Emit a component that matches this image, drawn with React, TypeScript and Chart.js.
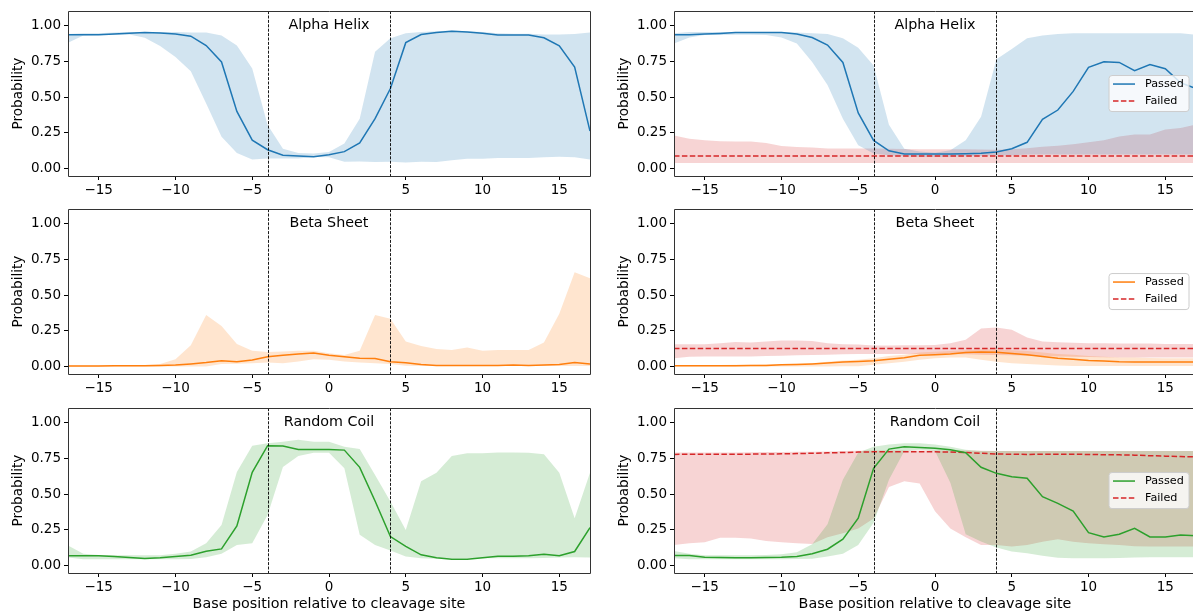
import React, { useEffect, useRef } from 'react';
import { Chart, registerables } from 'chart.js';

Chart.register(...registerables);

const positions = [-17, -16, -15, -14, -13, -12, -11, -10, -9, -8, -7, -6, -5, -4, -3, -2, -1, 0, 1, 2, 3, 4, 5, 6, 7, 8, 9, 10, 11, 12, 13, 14, 15, 16, 17];
const xTickValues = [-15, -10, -5, 0, 5, 10, 15];
const xTickLabels = ['\u221215', '\u221210', '\u22125', '0', '5', '10', '15'];
const yTickValues = [0, 0.25, 0.5, 0.75, 1.0];
const yTickLabels = ['0.00', '0.25', '0.50', '0.75', '1.00'];
const cleavageWindow = [-4, 4];
const titles = ['Alpha Helix', 'Beta Sheet', 'Random Coil'];
const legendLabels = ['Passed', 'Failed'];
const yLabel = 'Probability';
const xLabel = 'Base position relative to cleavage site';

// Alpha helix, all sequences (left)
const ahLeftMean = [0.935, 0.935, 0.935, 0.94, 0.945, 0.95, 0.948, 0.94, 0.925, 0.86, 0.745, 0.4, 0.2, 0.133, 0.095, 0.09, 0.085, 0.098, 0.12, 0.18, 0.35, 0.56, 0.88, 0.937, 0.95, 0.96, 0.955, 0.946, 0.933, 0.933, 0.933, 0.914, 0.858, 0.71, 0.263];
const ahLeftHigh = [0.94, 0.945, 0.945, 0.95, 0.955, 0.955, 0.955, 0.955, 0.95, 0.95, 0.93, 0.86, 0.7, 0.305, 0.14, 0.11, 0.107, 0.118, 0.177, 0.35, 0.816, 0.91, 0.945, 0.955, 0.96, 0.965, 0.96, 0.955, 0.945, 0.942, 0.942, 0.937, 0.937, 0.94, 0.95];
const ahLeftLow = [0.88, 0.93, 0.933, 0.935, 0.937, 0.914, 0.856, 0.78, 0.68, 0.455, 0.223, 0.11, 0.065, 0.072, 0.072, 0.072, 0.083, 0.08, 0.05, 0.051, 0.047, 0.05, 0.045, 0.05, 0.047, 0.06, 0.07, 0.07, 0.075, 0.075, 0.075, 0.08, 0.085, 0.08, 0.065];
// Alpha helix, passed vs failed (right)
const ahRightMean = [0.935, 0.935, 0.94, 0.944, 0.95, 0.95, 0.95, 0.95, 0.94, 0.916, 0.863, 0.742, 0.39, 0.198, 0.126, 0.104, 0.103, 0.104, 0.104, 0.105, 0.108, 0.118, 0.14, 0.185, 0.345, 0.41, 0.54, 0.708, 0.747, 0.742, 0.684, 0.728, 0.698, 0.6, 0.56];
const ahRightHigh = [0.945, 0.955, 0.955, 0.955, 0.955, 0.955, 0.955, 0.955, 0.95, 0.945, 0.94, 0.91, 0.845, 0.72, 0.307, 0.14, 0.12, 0.112, 0.13, 0.2, 0.363, 0.765, 0.835, 0.91, 0.93, 0.94, 0.945, 0.945, 0.945, 0.945, 0.945, 0.945, 0.945, 0.945, 0.935];
const ahRightLow = [0.874, 0.916, 0.933, 0.933, 0.935, 0.935, 0.933, 0.916, 0.874, 0.745, 0.584, 0.35, 0.165, 0.107, 0.095, 0.088, 0.085, 0.085, 0.085, 0.088, 0.09, 0.095, 0.095, 0.1, 0.1, 0.1, 0.1, 0.1, 0.1, 0.1, 0.1, 0.1, 0.1, 0.1, 0.1];
const ahFailMean = [0.09, 0.09, 0.09, 0.09, 0.09, 0.09, 0.09, 0.09, 0.09, 0.09, 0.09, 0.09, 0.09, 0.09, 0.09, 0.09, 0.09, 0.09, 0.09, 0.09, 0.09, 0.09, 0.09, 0.09, 0.09, 0.09, 0.09, 0.09, 0.09, 0.09, 0.09, 0.09, 0.09, 0.09, 0.09];
const ahFailHigh = [0.232, 0.21, 0.2, 0.193, 0.19, 0.19, 0.18, 0.16, 0.153, 0.149, 0.142, 0.142, 0.142, 0.142, 0.14, 0.138, 0.137, 0.137, 0.137, 0.137, 0.135, 0.133, 0.136, 0.143, 0.154, 0.161, 0.171, 0.185, 0.2, 0.225, 0.24, 0.24, 0.275, 0.285, 0.31];
const ahFailLow = [0.04, 0.04, 0.04, 0.04, 0.04, 0.04, 0.04, 0.04, 0.04, 0.04, 0.04, 0.04, 0.04, 0.04, 0.04, 0.04, 0.04, 0.04, 0.04, 0.04, 0.04, 0.04, 0.04, 0.04, 0.04, 0.04, 0.04, 0.04, 0.04, 0.04, 0.04, 0.04, 0.04, 0.04, 0.04];

// Beta sheet, all sequences (left)
const bsLeftMean = [0.005, 0.005, 0.006, 0.007, 0.008, 0.008, 0.01, 0.012, 0.02, 0.03, 0.043, 0.035, 0.047, 0.07, 0.08, 0.09, 0.097, 0.08, 0.07, 0.06, 0.058, 0.035, 0.028, 0.016, 0.01, 0.01, 0.01, 0.01, 0.01, 0.012, 0.01, 0.012, 0.016, 0.03, 0.02];
const bsLeftHigh = [0.01, 0.01, 0.01, 0.01, 0.01, 0.012, 0.02, 0.053, 0.15, 0.362, 0.285, 0.16, 0.113, 0.103, 0.107, 0.113, 0.113, 0.095, 0.083, 0.113, 0.362, 0.335, 0.176, 0.146, 0.125, 0.118, 0.135, 0.113, 0.118, 0.118, 0.118, 0.17, 0.37, 0.66, 0.617];
const bsLeftLow = [0.003, 0.003, 0.003, 0.003, 0.003, 0.003, 0.003, 0.003, 0.003, 0.003, 0.02, 0.022, 0.025, 0.03, 0.025, 0.037, 0.053, 0.05, 0.037, 0.03, 0.025, 0.02, 0.008, 0.005, 0.005, 0.005, 0.005, 0.005, 0.005, 0.005, 0.005, 0.005, 0.005, 0.005, 0.005];
// Beta sheet, passed vs failed (right)
const bsRightMean = [0.007, 0.008, 0.008, 0.008, 0.008, 0.009, 0.01, 0.014, 0.016, 0.02, 0.026, 0.033, 0.037, 0.042, 0.053, 0.063, 0.08, 0.084, 0.09, 0.1, 0.104, 0.102, 0.093, 0.084, 0.072, 0.06, 0.053, 0.044, 0.04, 0.035, 0.033, 0.033, 0.033, 0.033, 0.033];
const bsRightHigh = [0.01, 0.012, 0.012, 0.013, 0.014, 0.015, 0.017, 0.02, 0.022, 0.025, 0.035, 0.045, 0.05, 0.06, 0.075, 0.085, 0.1, 0.105, 0.11, 0.115, 0.12, 0.12, 0.115, 0.11, 0.1, 0.09, 0.085, 0.075, 0.07, 0.065, 0.065, 0.062, 0.06, 0.06, 0.06];
const bsRightLow = [0.003, 0.003, 0.003, 0.003, 0.003, 0.003, 0.003, 0.003, 0.003, 0.003, 0.003, 0.004, 0.004, 0.015, 0.025, 0.035, 0.05, 0.06, 0.065, 0.065, 0.05, 0.035, 0.025, 0.02, 0.015, 0.01, 0.006, 0.005, 0.005, 0.005, 0.005, 0.005, 0.005, 0.005, 0.005];
const bsFailMean = [0.128, 0.128, 0.128, 0.128, 0.128, 0.128, 0.128, 0.128, 0.128, 0.128, 0.128, 0.128, 0.128, 0.128, 0.128, 0.128, 0.128, 0.128, 0.128, 0.128, 0.128, 0.128, 0.128, 0.128, 0.128, 0.128, 0.128, 0.128, 0.128, 0.128, 0.128, 0.128, 0.128, 0.128, 0.128];
const bsFailHigh = [0.158, 0.158, 0.158, 0.165, 0.174, 0.17, 0.176, 0.183, 0.183, 0.18, 0.165, 0.158, 0.155, 0.148, 0.148, 0.15, 0.15, 0.153, 0.165, 0.188, 0.267, 0.274, 0.258, 0.204, 0.176, 0.172, 0.168, 0.165, 0.165, 0.163, 0.162, 0.162, 0.16, 0.16, 0.16];
const bsFailLow = [0.06, 0.07, 0.072, 0.072, 0.072, 0.072, 0.075, 0.078, 0.08, 0.082, 0.085, 0.088, 0.09, 0.09, 0.09, 0.09, 0.09, 0.09, 0.09, 0.088, 0.085, 0.082, 0.08, 0.078, 0.075, 0.072, 0.07, 0.068, 0.066, 0.065, 0.065, 0.065, 0.065, 0.065, 0.065];

// Random coil, all sequences (left)
const rcLeftMean = [0.07, 0.07, 0.07, 0.065, 0.058, 0.051, 0.056, 0.065, 0.074, 0.102, 0.118, 0.278, 0.652, 0.838, 0.835, 0.812, 0.812, 0.812, 0.807, 0.687, 0.452, 0.204, 0.135, 0.077, 0.056, 0.046, 0.046, 0.056, 0.067, 0.067, 0.07, 0.081, 0.07, 0.1, 0.267];
const rcLeftHigh = [0.142, 0.084, 0.075, 0.074, 0.074, 0.074, 0.074, 0.084, 0.1, 0.158, 0.285, 0.655, 0.838, 0.855, 0.865, 0.88, 0.865, 0.865, 0.83, 0.815, 0.633, 0.448, 0.25, 0.59, 0.65, 0.766, 0.785, 0.785, 0.79, 0.79, 0.788, 0.778, 0.65, 0.332, 0.65];
const rcLeftLow = [0.058, 0.046, 0.046, 0.046, 0.046, 0.046, 0.046, 0.046, 0.048, 0.06, 0.084, 0.146, 0.158, 0.355, 0.69, 0.766, 0.788, 0.788, 0.68, 0.216, 0.146, 0.107, 0.065, 0.053, 0.049, 0.053, 0.053, 0.053, 0.053, 0.053, 0.053, 0.055, 0.058, 0.06, 0.058];
// Random coil, passed vs failed (right)
const rcRightMean = [0.072, 0.072, 0.06, 0.058, 0.056, 0.056, 0.058, 0.06, 0.065, 0.084, 0.116, 0.186, 0.332, 0.68, 0.814, 0.83, 0.826, 0.82, 0.81, 0.789, 0.687, 0.645, 0.621, 0.611, 0.482, 0.436, 0.382, 0.231, 0.201, 0.22, 0.261, 0.201, 0.201, 0.215, 0.21];
const rcRightHigh = [0.104, 0.084, 0.074, 0.074, 0.074, 0.074, 0.076, 0.08, 0.095, 0.15, 0.29, 0.6, 0.79, 0.83, 0.847, 0.854, 0.854, 0.847, 0.83, 0.81, 0.8, 0.8, 0.8, 0.8, 0.8, 0.8, 0.8, 0.8, 0.8, 0.8, 0.8, 0.8, 0.8, 0.8, 0.8];
const rcRightLow = [0.053, 0.046, 0.046, 0.046, 0.046, 0.046, 0.046, 0.046, 0.048, 0.05, 0.065, 0.084, 0.146, 0.3, 0.6, 0.8, 0.81, 0.8, 0.58, 0.22, 0.17, 0.127, 0.1, 0.087, 0.071, 0.057, 0.053, 0.052, 0.052, 0.055, 0.058, 0.06, 0.06, 0.06, 0.06];
const rcFailMean = [0.777, 0.778, 0.779, 0.779, 0.779, 0.779, 0.78, 0.781, 0.783, 0.785, 0.788, 0.79, 0.793, 0.795, 0.795, 0.795, 0.795, 0.795, 0.793, 0.79, 0.785, 0.78, 0.778, 0.777, 0.778, 0.778, 0.778, 0.777, 0.775, 0.774, 0.772, 0.768, 0.765, 0.762, 0.76];
const rcFailHigh = [0.79, 0.79, 0.79, 0.79, 0.79, 0.792, 0.793, 0.794, 0.795, 0.795, 0.798, 0.8, 0.803, 0.805, 0.805, 0.805, 0.805, 0.805, 0.805, 0.805, 0.803, 0.8, 0.8, 0.8, 0.8, 0.8, 0.8, 0.8, 0.8, 0.8, 0.8, 0.8, 0.8, 0.8, 0.8];
const rcFailLow = [0.145, 0.157, 0.164, 0.196, 0.196, 0.191, 0.173, 0.164, 0.157, 0.152, 0.2, 0.227, 0.26, 0.33, 0.55, 0.59, 0.575, 0.38, 0.26, 0.2, 0.145, 0.145, 0.134, 0.145, 0.168, 0.185, 0.168, 0.157, 0.15, 0.145, 0.136, 0.134, 0.134, 0.134, 0.134];

const BLUE = '#1f77b4';
const ORANGE = '#ff7f0e';
const GREEN = '#2ca02c';
const RED = '#d62728';
const band = (hex: string) => {
  const r = parseInt(hex.slice(1, 3), 16);
  const g = parseInt(hex.slice(3, 5), 16);
  const b = parseInt(hex.slice(5, 7), 16);
  return `rgba(${r},${g},${b},0.2)`;
};

type Series = { mean: number[]; low: number[]; high: number[] };
type PanelCfg = {
  row: number;
  col: number;
  title: string;
  color: string;
  passed: Series;
  failed?: Series;
};

const panels: PanelCfg[] = [
  { row: 0, col: 0, title: titles[0], color: BLUE, passed: { mean: ahLeftMean, low: ahLeftLow, high: ahLeftHigh } },
  { row: 0, col: 1, title: titles[0], color: BLUE, passed: { mean: ahRightMean, low: ahRightLow, high: ahRightHigh }, failed: { mean: ahFailMean, low: ahFailLow, high: ahFailHigh } },
  { row: 1, col: 0, title: titles[1], color: ORANGE, passed: { mean: bsLeftMean, low: bsLeftLow, high: bsLeftHigh } },
  { row: 1, col: 1, title: titles[1], color: ORANGE, passed: { mean: bsRightMean, low: bsRightLow, high: bsRightHigh }, failed: { mean: bsFailMean, low: bsFailLow, high: bsFailHigh } },
  { row: 2, col: 0, title: titles[2], color: GREEN, passed: { mean: rcLeftMean, low: rcLeftLow, high: rcLeftHigh } },
  { row: 2, col: 1, title: titles[2], color: GREEN, passed: { mean: rcRightMean, low: rcRightLow, high: rcRightHigh }, failed: { mean: rcFailMean, low: rcFailLow, high: rcFailHigh } },
];

const FONT = '"DejaVu Sans", "Liberation Sans", sans-serif';
const PLOT_TOPS = [11, 209, 408];
const COL_W = 606;
const AXIS_W = 68;
const PLOT_W = 522;
const PLOT_H = 165;
const PAD_TOP = 11;
const CANVAS_H = 217;

const pts = (arr: number[]) => positions.map((x, i) => ({ x, y: arr[i] }));

function makeOverlay(cfg: PanelCfg) {
  return {
    id: 'overlay',
    afterDatasetsDraw(chart: any) {
      const { ctx, chartArea: ca, scales } = chart;
      const xs = scales.x;
      const ys = scales.y;
      ctx.save();
      // window lines
      ctx.strokeStyle = '#000';
      ctx.lineWidth = 0.9;
      ctx.setLineDash([3, 1.4]);
      for (const v of cleavageWindow) {
        const px = Math.round(xs.getPixelForValue(v)) + 0.5;
        ctx.beginPath();
        ctx.moveTo(px, ca.top);
        ctx.lineTo(px, ca.bottom);
        ctx.stroke();
      }
      ctx.setLineDash([]);
      // spines
      ctx.strokeStyle = '#333';
      ctx.lineWidth = 1;
      const l = Math.round(ca.left) + 0.5;
      const t = Math.round(ca.top) + 0.5;
      const r = Math.round(ca.right) + 0.5;
      const b = Math.round(ca.bottom) + 0.5;
      ctx.beginPath();
      ctx.moveTo(l, t);
      ctx.lineTo(r, t);
      ctx.lineTo(r, b);
      ctx.lineTo(l, b);
      ctx.closePath();
      ctx.stroke();
      // title
      ctx.fillStyle = '#000';
      ctx.font = `14.3px ${FONT}`;
      ctx.textAlign = 'center';
      ctx.textBaseline = 'middle';
      ctx.fillText(cfg.title, xs.getPixelForValue(0), ys.getPixelForValue(1.0));
      // x label
      if (cfg.row === 2) {
        ctx.fillText(xLabel, (ca.left + ca.right) / 2, ca.bottom + 31);
      }
      // y label
      ctx.font = `13.6px ${FONT}`;
      ctx.save();
      ctx.translate(18, (ca.top + ca.bottom) / 2);
      ctx.rotate(-Math.PI / 2);
      ctx.fillText(yLabel, 0, 0);
      ctx.restore();
      // legend
      if (cfg.failed) {
        const boxW = 80;
        const boxH = 36;
        const right = ca.right - 7;
        const left = right - boxW;
        const top = (ca.top + ca.bottom) / 2 - boxH / 2;
        ctx.beginPath();
        const rad = 3;
        ctx.moveTo(left + rad, top);
        ctx.lineTo(right - rad, top);
        ctx.arcTo(right, top, right, top + rad, rad);
        ctx.lineTo(right, top + boxH - rad);
        ctx.arcTo(right, top + boxH, right - rad, top + boxH, rad);
        ctx.lineTo(left + rad, top + boxH);
        ctx.arcTo(left, top + boxH, left, top + boxH - rad, rad);
        ctx.lineTo(left, top + rad);
        ctx.arcTo(left, top, left + rad, top, rad);
        ctx.closePath();
        ctx.fillStyle = 'rgba(255,255,255,0.8)';
        ctx.fill();
        ctx.strokeStyle = '#cccccc';
        ctx.lineWidth = 1;
        ctx.stroke();
        const rows = [top + 8.5, top + 25.5];
        ctx.lineWidth = 1.5;
        ctx.strokeStyle = cfg.color;
        ctx.beginPath();
        ctx.moveTo(left + 4, rows[0]);
        ctx.lineTo(left + 26, rows[0]);
        ctx.stroke();
        ctx.strokeStyle = RED;
        ctx.setLineDash([5.5, 2.4]);
        ctx.beginPath();
        ctx.moveTo(left + 4, rows[1]);
        ctx.lineTo(left + 26, rows[1]);
        ctx.stroke();
        ctx.setLineDash([]);
        ctx.fillStyle = '#000';
        ctx.font = `11.2px ${FONT}`;
        ctx.textAlign = 'left';
        ctx.textBaseline = 'middle';
        ctx.fillText(legendLabels[0], left + 36, rows[0]);
        ctx.fillText(legendLabels[1], left + 36, rows[1]);
      }
      ctx.restore();
    },
  };
}

function Panel({ cfg }: { cfg: PanelCfg }) {
  const ref = useRef<HTMLCanvasElement>(null);
  useEffect(() => {
    const datasets: any[] = [
      {
        data: pts(cfg.passed.mean),
        borderColor: cfg.color,
        borderWidth: 1.5,
        pointRadius: 0,
        tension: 0,
        fill: false,
      },
    ];
    if (cfg.failed) {
      datasets.push({
        data: pts(cfg.failed.mean),
        borderColor: RED,
        borderWidth: 1.5,
        borderDash: [5.5, 2.4],
        pointRadius: 0,
        tension: 0,
        fill: false,
      });
    }
    datasets.push(
      {
        data: pts(cfg.passed.high),
        borderWidth: 0,
        borderColor: 'rgba(0,0,0,0)',
        backgroundColor: band(cfg.color),
        pointRadius: 0,
        tension: 0,
        fill: '+1',
      },
      {
        data: pts(cfg.passed.low),
        borderWidth: 0,
        borderColor: 'rgba(0,0,0,0)',
        pointRadius: 0,
        tension: 0,
        fill: false,
      }
    );
    if (cfg.failed) {
      datasets.push(
        {
          data: pts(cfg.failed.high),
          borderWidth: 0,
          borderColor: 'rgba(0,0,0,0)',
          backgroundColor: band(RED),
          pointRadius: 0,
          tension: 0,
          fill: '+1',
        },
        {
          data: pts(cfg.failed.low),
          borderWidth: 0,
          borderColor: 'rgba(0,0,0,0)',
          pointRadius: 0,
          tension: 0,
          fill: false,
        }
      );
    }
    const tickFont = { family: FONT, size: 13.5 };
    const chart = new Chart(ref.current as HTMLCanvasElement, {
      type: 'line',
      data: { datasets },
      options: {
        animation: false,
        responsive: false,
        devicePixelRatio: 1,
        events: [],
        layout: { padding: { top: PAD_TOP, left: 0, right: COL_W - AXIS_W - PLOT_W, bottom: 0 } },
        plugins: {
          legend: { display: false },
          tooltip: { enabled: false },
          title: { display: false },
        },
        scales: {
          x: {
            type: 'linear',
            min: -17,
            max: 17,
            afterFit: (s: any) => {
              s.height = CANVAS_H - PAD_TOP - PLOT_H;
            },
            afterBuildTicks: (s: any) => {
              s.ticks = xTickValues.map((v) => ({ value: v }));
            },
            ticks: {
              autoSkip: false,
              maxRotation: 0,
              padding: 2,
              color: '#000',
              font: tickFont,
              callback: (_v: any, i: number) => xTickLabels[i],
            },
            grid: { drawOnChartArea: false, drawTicks: true, tickLength: 4, color: '#000', lineWidth: 1 },
            border: { display: false },
          },
          y: {
            type: 'linear',
            min: -0.05,
            max: 1.1,
            afterFit: (s: any) => {
              s.width = AXIS_W;
            },
            afterBuildTicks: (s: any) => {
              s.ticks = yTickValues.map((v) => ({ value: v }));
            },
            ticks: {
              autoSkip: false,
              padding: 3,
              color: '#000',
              font: tickFont,
              callback: (_v: any, i: number) => yTickLabels[i],
            },
            grid: { drawOnChartArea: false, drawTicks: true, tickLength: 4, color: '#000', lineWidth: 1 },
            border: { display: false },
          },
        },
      } as any,
      plugins: [makeOverlay(cfg)],
    });
    return () => chart.destroy();
  }, [cfg]);
  return (
    <canvas
      ref={ref}
      width={COL_W}
      height={CANVAS_H}
      style={{
        position: 'absolute',
        left: cfg.col * COL_W,
        top: PLOT_TOPS[cfg.row] - PAD_TOP,
        width: COL_W,
        height: CANVAS_H,
      }}
    />
  );
}

export default function App() {
  return (
    <div
      style={{
        position: 'fixed',
        left: 0,
        top: 0,
        width: 1193,
        height: 614,
        overflow: 'hidden',
        background: '#fff',
      }}
    >
      {panels.map((p, i) => (
        <Panel key={i} cfg={p} />
      ))}
    </div>
  );
}
